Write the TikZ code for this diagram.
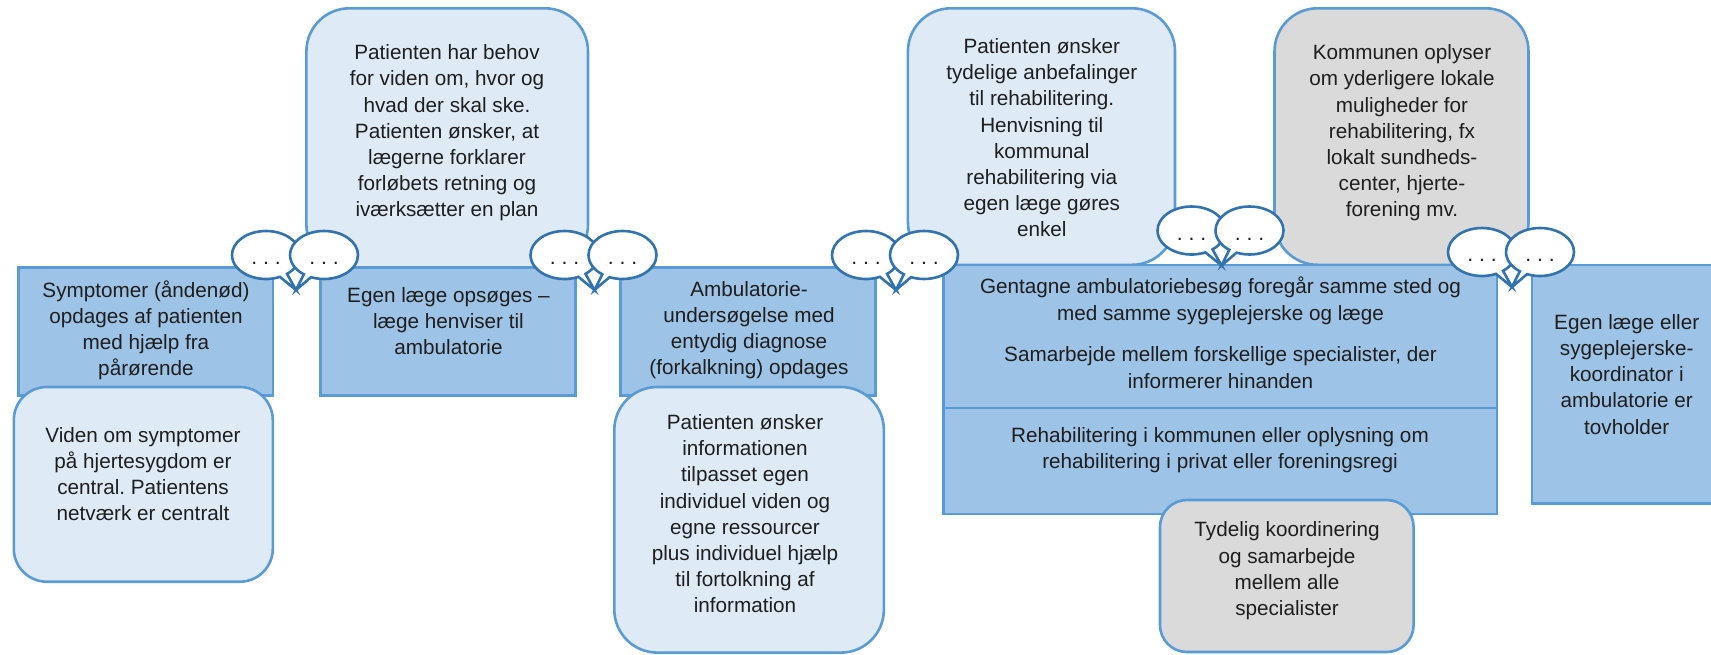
\documentclass[tikz,border=0pt]{standalone}
\usepackage{fontspec}
\setmainfont{Liberation Sans}
\usetikzlibrary{positioning, fit, shapes.callouts}
\definecolor{boxline}{RGB}{91,155,213}
\definecolor{darkfill}{RGB}{157,195,230}
\definecolor{lightfill}{RGB}{222,235,247}
\definecolor{grayfill}{RGB}{218,218,218}
\definecolor{bubbleline}{RGB}{50,115,175}
\definecolor{textcol}{RGB}{30,30,30}
\frenchspacing

\begin{document}
\begin{tikzpicture}[x=0.5pt, y=-0.5pt,
    darkbox/.style={draw=boxline, fill=darkfill, line width=1.3pt, inner sep=0pt},
    lightbox/.style={draw=boxline, fill=lightfill, line width=1.3pt, inner sep=0pt, rounded corners=21.5pt},
    graybox/.style={lightbox, fill=grayfill},
    txt/.style={align=center, inner sep=0pt, text=textcol, font=\fontsize{10.35}{13.1}\selectfont},
    bubble/.style={ellipse callout, draw=bubbleline, fill=white, line width=1.3pt,
        minimum width=34pt, minimum height=24pt, inner sep=0pt, text depth=0pt, text height=9.5pt,
        callout pointer arc=14, text=textcol, font=\fontsize{10.6}{13.1}\selectfont}]
        \useasboundingbox (0,0) rectangle (1711,654);
        \clip (0,0) rectangle (1711,654);
        % boxes above the steps
        \node[lightbox, fit={(306.4,8.3) (588,267.7)}] (behov) {};
        \node[lightbox, fit={(907.9,8.3) (1175,264.8)}] (anbef) {};
        \node[graybox, fit={(1274.5,8.3) (1528.5,264.8)}] (kommune) {};
        % steps
        \node[darkbox, fit={(18.6,267.7) (272.8,395.3)}] (sympt) {};
        \node[darkbox, fit={(320.3,267.7) (575.3,395.3)}] (egen) {};
        \node[darkbox, fit={(620.7,267.7) (875.7,395.3)}] (ambu) {};
        \node[darkbox, fit={(943.6,264.8) (1497,407.8)}] (gentag) {};
        \node[darkbox, fit={(943.6,407.8) (1497,513.8)}] (rehab) {};
        \node[darkbox, fit={(1532,265) (1725,503.3)}] (tovh) {};
        % boxes below the steps
        \node[lightbox, rounded corners=16.5pt, fit={(13.8,387) (272.8,581.7)}] (viden) {};
        \node[lightbox, fit={(614.3,387) (883.9,652.6)}] (info) {};
        \node[graybox, rounded corners=13.5pt, fit={(1160,500) (1413.6,652)}] (koord) {};

        \node[txt] (behovT) at (447,133) {Patienten har behov\\ for viden om, hvor og\\ hvad der skal ske.\\ Patienten ønsker, at\\ lægerne forklarer\\ forløbets retning og\\ iværksætter en plan};
        \node[txt] (anbefT) at (1041.8,137.7) {Patienten ønsker\\ tydelige anbefalinger\\ til rehabilitering.\\ Henvisning til\\ kommunal\\ rehabilitering via\\ egen læge gøres\\ enkel};
        \node[txt] (kommuneT) at (1402,133) {Kommunen oplyser\\ om yderligere lokale\\ muligheder for\\ rehabilitering, fx\\ lokalt sundheds-\\ center, hjerte-\\ forening mv.};
        \node[txt] (symptT) at (146,330.3) {Symptomer (åndenød)\\ opdages af patienten\\ med hjælp fra\\ pårørende};
        \node[txt] (egenT) at (448.5,320.9) {Egen læge opsøges –\\ læge henviser til\\ ambulatorie};
        \node[txt] (ambuT) at (749,330.3) {Ambulatorie-\\ undersøgelse med\\ entydig diagnose\\ (forkalkning) opdages};
        \node[txt] (gentagT) at (1220.5,300.7) {Gentagne ambulatoriebesøg foregår samme sted og\\ med samme sygeplejerske og læge};
        \node[txt] (samarbT) at (1220.5,367.6) {Samarbejde mellem forskellige specialister, der\\ informerer hinanden};
        \node[txt] (rehabT) at (1220,450.5) {Rehabilitering i kommunen eller oplysning om\\ rehabilitering i privat eller foreningsregi};
        \node[txt] (tovhT) at (1626.7,374.2) {Egen læge eller\\ sygeplejerske-\\ koordinator i\\ ambulatorie er\\ tovholder};
        \node[txt] (videnT) at (143,474) {Viden om symptomer\\ på hjertesygdom er\\ central. Patientens\\ netværk er centralt};
        \node[txt] (infoT) at (745,513.8) {Patienten ønsker\\ informationen\\ tilpasset egen\\ individuel viden og\\ egne ressourcer\\ plus individuel hjælp\\ til fortolkning af\\ information};
        \node[txt] (koordT) at (1287,570.9) {Tydelig koordinering\\ og samarbejde\\ mellem alle\\ specialister};

        % speech bubbles
        \foreach \tx/\ty [count=\i] in {296/290, 594.5/290, 896/290, 1221.5/265.5, 1512/287}
        {
            \coordinate (tip\i) at (\tx,\ty);
            \node[bubble, callout absolute pointer=(tip\i)] (bl\i) at (\tx-30,\ty-35) {. . .};
            \node[bubble, callout absolute pointer=(tip\i)] (br\i) at (\tx+28,\ty-35) {. . .};
        };
\end{tikzpicture}
\end{document}
